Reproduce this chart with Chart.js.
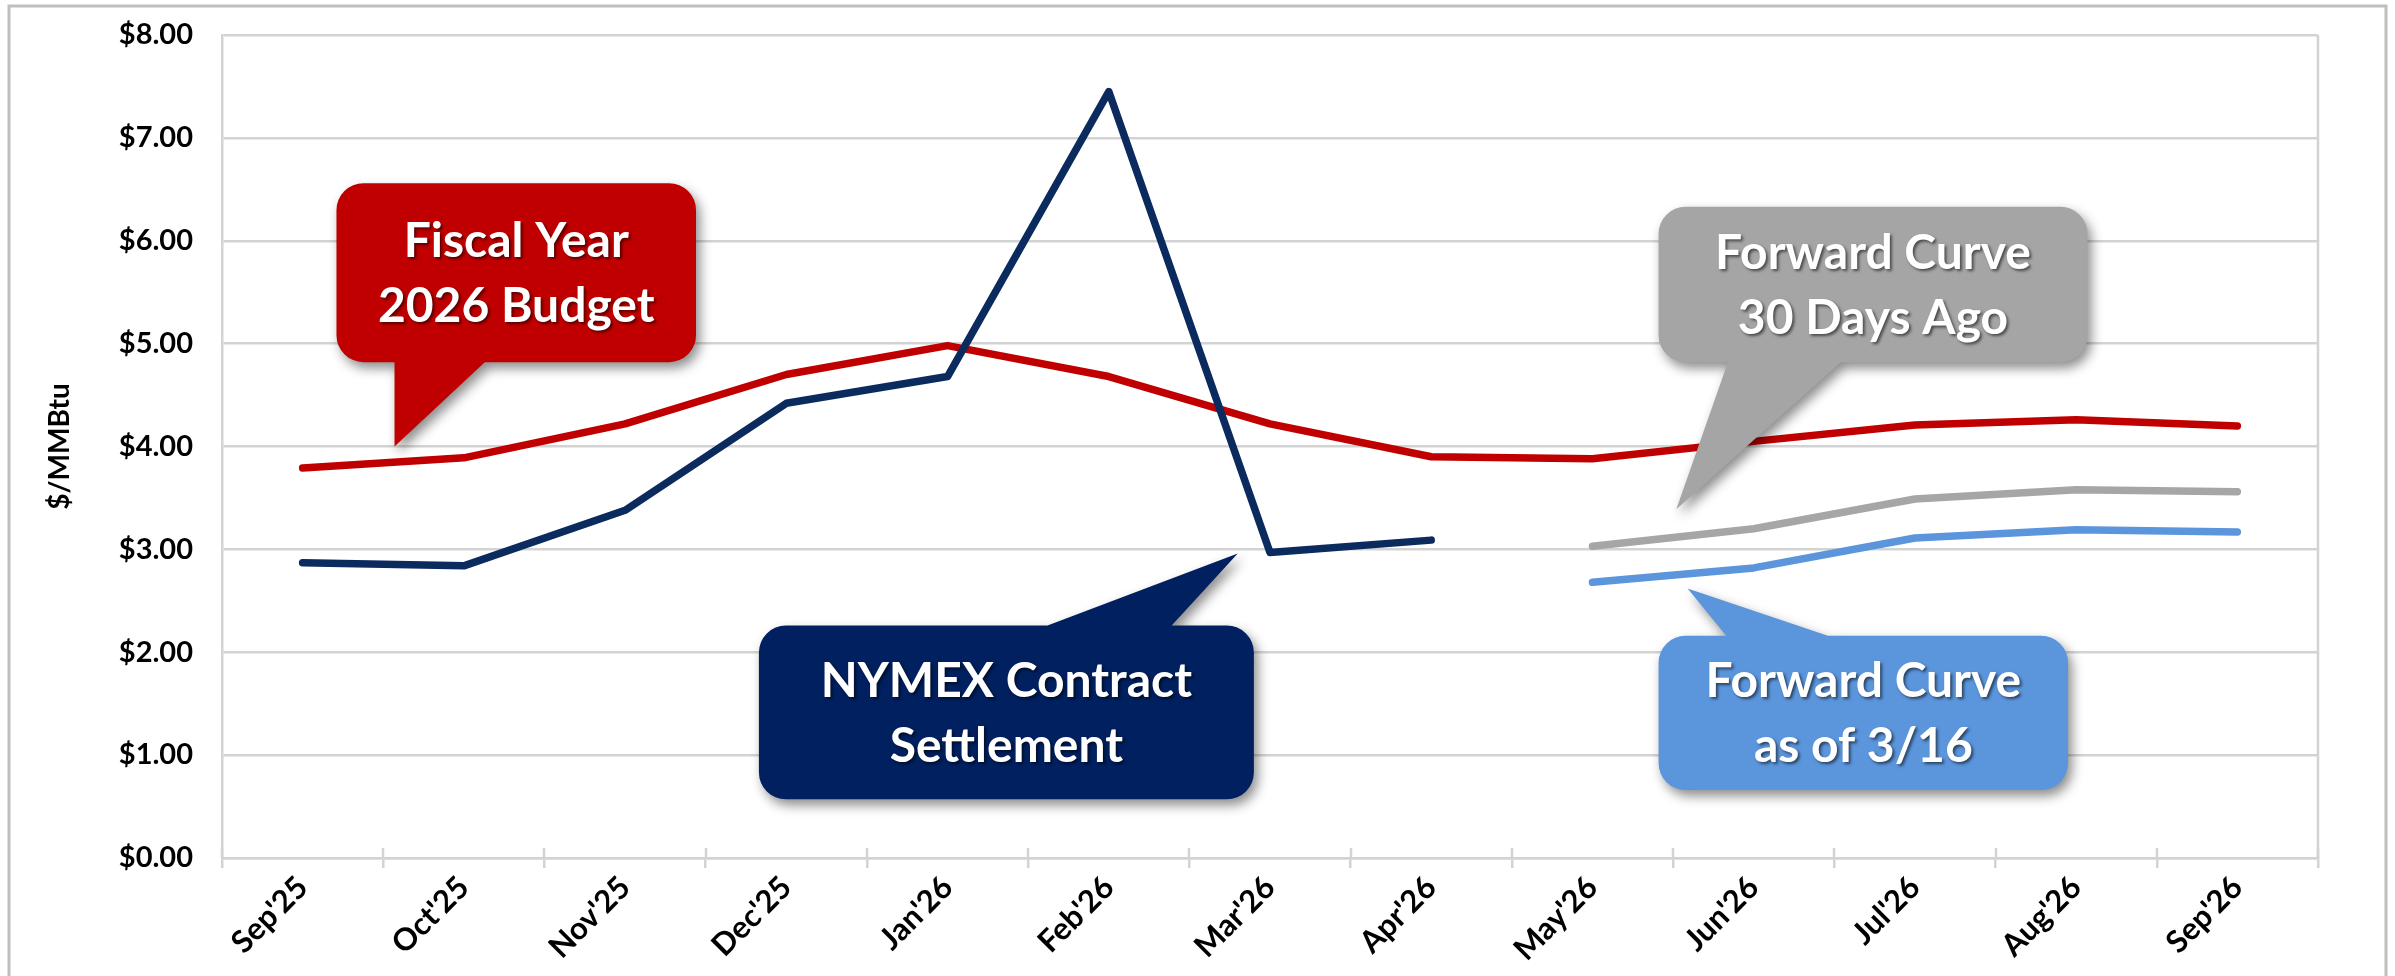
<!DOCTYPE html>
<html>
<head>
<meta charset="utf-8">
<script src="https://cdn.jsdelivr.net/npm/chart.js@4.4.1/dist/chart.umd.min.js"></script>
<style>
  html, body { margin: 0; padding: 0; background: #ffffff; }
  #wrap { width: 2395px; height: 976px; position: relative; }
</style>
</head>
<body>
<div id="wrap"><canvas id="myCanvas"></canvas></div>
<script>
// months on the x axis
const labels = ["Sep'25", "Oct'25", "Nov'25", "Dec'25", "Jan'26", "Feb'26", "Mar'26",
  "Apr'26", "May'26", "Jun'26", "Jul'26", "Aug'26", "Sep'26"];

// $/MMBtu values
const budget = [3.79, 3.89, 4.22, 4.70, 4.98, 4.68, 4.22, 3.90, 3.88, 4.05, 4.21, 4.26, 4.20];
const nymex = [2.87, 2.84, 3.38, 4.42, 4.68, 7.45, 2.97, 3.09, null, null, null, null, null];
const fwd30 = [null, null, null, null, null, null, null, null, 3.03, 3.20, 3.49, 3.58, 3.56];
const fwdNow = [null, null, null, null, null, null, null, null, 2.68, 2.82, 3.11, 3.19, 3.17];

const yTicks = [0, 1, 2, 3, 4, 5, 6, 7, 8];

// callout boxes, in axis units: [xFrom, xTo, yTop, yBottom], pointer base + tip
const callouts = [
  { text: ["Fiscal Year", "2026 Budget"], color: "#C00000", box: [0.21, 2.44, 6.56, 4.82], side: "bottom", base: [0.57, 1.13], tip: [0.57, 4.0] },
  { text: ["NYMEX Contract", "Settlement"], color: "#002060", box: [2.83, 5.90, 2.26, 0.57], side: "top", base: [4.62, 5.39], tip: [5.80, 2.96] },
  { text: ["Forward Curve", "30 Days Ago"], color: "#A5A5A5", box: [8.41, 11.07, 6.33, 4.82], side: "bottom", base: [8.84, 9.54], tip: [8.52, 3.39] },
  { text: ["Forward Curve", "as of 3/16"], color: "#5B95DC", box: [8.41, 10.95, 2.16, 0.66], side: "top", base: [8.83, 9.46], tip: [8.59, 2.62] },
];

const gridColor = "#D3D3D3";
const fontFamily = "Lato, 'Open Sans', sans-serif";

const frame = {
  id: "frame",
  beforeDraw(chart) {
    const ctx = chart.ctx;
    ctx.save();
    ctx.strokeStyle = "#BFBFBF";
    ctx.lineWidth = 3;
    ctx.strokeRect(9, 6, 2377, 990);
    ctx.restore();
  },
  afterDraw(chart) {
    const ctx = chart.ctx;
    const a = chart.chartArea;
    ctx.save();
    ctx.strokeStyle = gridColor;
    ctx.lineWidth = 2.5;
    // right edge of plot
    ctx.beginPath();
    ctx.moveTo(a.right, a.top);
    ctx.lineTo(a.right, a.bottom);
    ctx.stroke();
    // tick marks crossing the axis (upper half)
    const w = (a.right - a.left) / labels.length;
    for (let i = 0; i <= labels.length; i++) {
      const x = Math.round(a.left + i * w);
      ctx.beginPath();
      ctx.moveTo(x, a.bottom - 10);
      ctx.lineTo(x, a.bottom);
      ctx.stroke();
    }
    ctx.restore();
  },
};

function drawCallout(ctx, c, xs, ys) {
  const px = (v) => xs.getPixelForValue(v);
  const py = (v) => ys.getPixelForValue(v);
  const x1 = px(c.box[0]), x2 = px(c.box[1]);
  const y1 = py(c.box[2]), y2 = py(c.box[3]);
  const r = 27;
  const b1 = px(c.base[0]), b2 = px(c.base[1]);
  const tx = px(c.tip[0]), ty = py(c.tip[1]);

  ctx.beginPath();
  ctx.moveTo(x1 + r, y1);
  if (c.side === "top") {
    ctx.lineTo(b1, y1);
    ctx.lineTo(tx, ty);
    ctx.lineTo(b2, y1);
  }
  ctx.lineTo(x2 - r, y1);
  ctx.arcTo(x2, y1, x2, y1 + r, r);
  ctx.lineTo(x2, y2 - r);
  ctx.arcTo(x2, y2, x2 - r, y2, r);
  if (c.side === "bottom") {
    ctx.lineTo(b2, y2);
    ctx.lineTo(tx, ty);
    ctx.lineTo(b1, y2);
  }
  ctx.lineTo(x1 + r, y2);
  ctx.arcTo(x1, y2, x1, y2 - r, r);
  ctx.lineTo(x1, y1 + r);
  ctx.arcTo(x1, y1, x1 + r, y1, r);
  ctx.closePath();

  ctx.save();
  ctx.shadowColor = "rgba(0,0,0,0.45)";
  ctx.shadowBlur = 12;
  ctx.shadowOffsetX = 4;
  ctx.shadowOffsetY = 6;
  ctx.fillStyle = c.color;
  ctx.fill();
  ctx.restore();

  ctx.save();
  ctx.font = "bold 48px " + fontFamily;
  ctx.textAlign = "center";
  ctx.textBaseline = "alphabetic";
  ctx.fillStyle = "#ffffff";
  ctx.shadowColor = "rgba(0,0,0,0.55)";
  ctx.shadowBlur = 3;
  ctx.shadowOffsetX = 2;
  ctx.shadowOffsetY = 2;
  const cx = (x1 + x2) / 2;
  const cy = (y1 + y2) / 2;
  ctx.fillText(c.text[0], cx, cy - 32.5 + 17);
  ctx.fillText(c.text[1], cx, cy + 32.5 + 17);
  ctx.restore();
}

const calloutPlugin = {
  id: "callouts",
  afterDatasetsDraw(chart) {
    const ctx = chart.ctx;
    for (const c of callouts) {
      drawCallout(ctx, c, chart.scales.x, chart.scales.y);
    }
  },
};

function lineSet(label, data, color) {
  return {
    label: label,
    data: data,
    borderColor: color,
    backgroundColor: color,
    borderWidth: 7.5,
    pointRadius: 0,
    tension: 0,
    spanGaps: false,
    borderCapStyle: "round",
    borderJoinStyle: "round",
  };
}

new Chart(document.getElementById("myCanvas"), {
  type: "line",
  data: {
    labels: labels,
    datasets: [
      lineSet("NYMEX Contract Settlement", nymex, "#0B2B5E"),
      lineSet("Fiscal Year 2026 Budget", budget, "#C00000"),
      lineSet("Forward Curve 30 Days Ago", fwd30, "#A6A6A6"),
      lineSet("Forward Curve as of 3/16", fwdNow, "#5B95DC"),
    ],
  },
  plugins: [frame, calloutPlugin],
  options: {
    responsive: true,
    maintainAspectRatio: false,
    devicePixelRatio: 1,
    animation: false,
    layout: { padding: { left: 20, right: 77, top: 35, bottom: 0 } },
    plugins: {
      legend: { display: false },
      tooltip: { enabled: false },
    },
    scales: {
      x: {
        type: "category",
        offset: true,
        afterFit: (s) => { s.height = 118; },
        grid: {
          offset: true,
          drawOnChartArea: false,
          drawTicks: true,
          tickLength: 10,
          color: gridColor,
          lineWidth: 2.5,
        },
        border: { display: true, color: gridColor, width: 2.5 },
        ticks: {
          autoSkip: false,
          maxRotation: 45,
          minRotation: 45,
          padding: 1,
          color: "#000000",
          font: { family: fontFamily, size: 31, weight: "bold" },
        },
      },
      y: {
        min: 0,
        max: 8,
        afterFit: (s) => { s.width = 202; s.paddingTop = 0; s.paddingBottom = 0; },
        afterBuildTicks: (s) => { s.ticks = yTicks.map((v) => ({ value: v })); },
        grid: { color: gridColor, lineWidth: 2.5, drawTicks: false },
        border: { display: true, color: gridColor, width: 2.5 },
        ticks: {
          padding: 29,
          color: "#000000",
          font: { family: fontFamily, size: 29, weight: "bold" },
          callback: (v) => "$" + Number(v).toFixed(2),
        },
        title: {
          display: true,
          text: "$/MMBtu",
          color: "#000000",
          padding: { top: 23, bottom: 0 },
          font: { family: fontFamily, size: 28, weight: "bold" },
        },
      },
    },
  },
});
</script>
</body>
</html>
